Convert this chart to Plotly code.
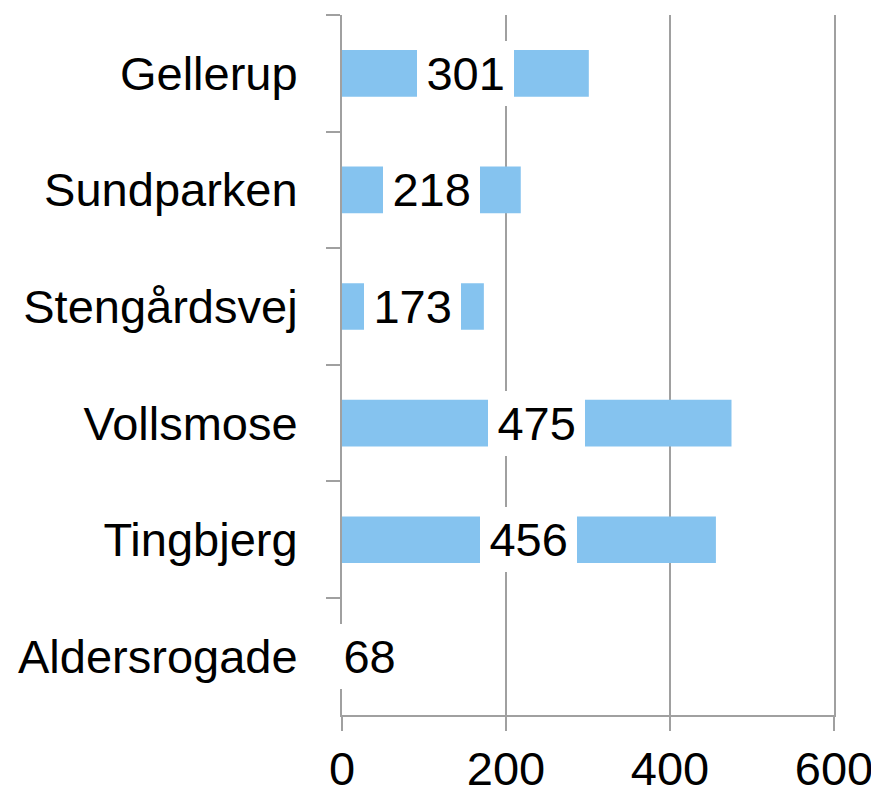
import plotly.graph_objects as go

categories = ["Gellerup", "Sundparken", "Stengårdsvej", "Vollsmose", "Tingbjerg", "Aldersrogade"]
values = [301, 218, 173, 475, 456, 68]
x_ticks = [0, 200, 400, 600]

FONT = "Liberation Sans, Arial, sans-serif"
FS = 47
BAR = "#85C3EF"
AXC = "#A0A0A0"
LW = 2

fig = go.Figure()
fig.add_trace(go.Bar(
    x=values, y=categories, orientation="h",
    marker=dict(color=BAR, line=dict(width=0)),
    width=0.4, hoverinfo="skip",
))

for c, v in zip(categories, values):
    txt = str(v)
    fig.add_annotation(
        x=v / 2, y=c, xref="x", yref="y", text=txt, showarrow=False,
        font=dict(family=FONT, size=FS, color="black"),
        bgcolor="white", borderpad=0, borderwidth=0,
        width=FS * 0.556 * len(txt) + 19, height=65,
        xanchor="center", yanchor="middle",
    )

# page body has an 8px margin, so the figure is sized/offset to compensate
fig.update_layout(
    width=871, height=782,
    margin=dict(l=334, r=45, t=7, b=75, pad=0),
    paper_bgcolor="white", plot_bgcolor="white",
    showlegend=False,
    font=dict(family=FONT, size=FS, color="black"),
    bargap=0.6,
)
fig.update_xaxes(
    range=[0, 600], tickvals=x_ticks, ticktext=[str(t) for t in x_ticks],
    showgrid=True, gridcolor=AXC, gridwidth=LW,
    zeroline=False,
    showline=True, linecolor=AXC, linewidth=LW,
    ticks="outside", ticklen=14, tickwidth=LW, tickcolor=AXC,
    tickfont=dict(family=FONT, size=FS, color="black"),
    ticklabelstandoff=-2,
    automargin=False,
    fixedrange=True,
)
fig.update_yaxes(
    categoryorder="array", categoryarray=categories,
    range=[len(categories) - 0.5 + 0.003, -0.5],
    showgrid=False, zeroline=False,
    showline=True, mirror=True, linecolor=AXC, linewidth=LW,
    ticks="outside", ticklen=14, tickwidth=LW, tickcolor=AXC,
    tickson="boundaries",
    tickfont=dict(family=FONT, size=FS, color="black"),
    ticklabelstandoff=33,
    automargin=False,
    fixedrange=True,
)

fig.write_html("out.html", config={"displayModeBar": False})
